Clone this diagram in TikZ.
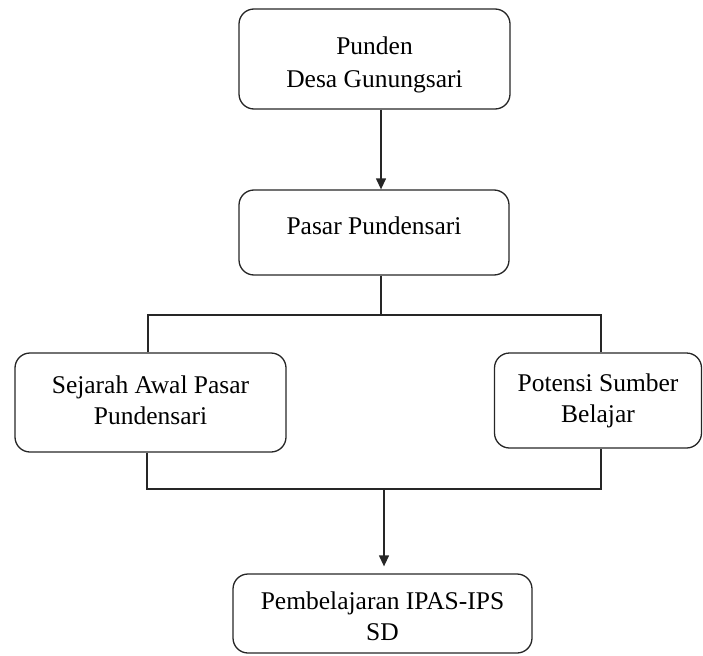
\documentclass[tikz,border=0pt]{standalone}
\usepackage{fontspec}
\setmainfont{Liberation Serif}
\usetikzlibrary{arrows.meta}
\newcommand\boxlines[2]{\raisebox{#1}[\height][\depth]{\begin{tabular}{@{}c@{}}#2\end{tabular}}}
\begin{document}
\begin{tikzpicture}[x=1pt,y=-1pt,
  box/.style={draw=black!85, line width=1.3pt, rounded corners=15pt, align=center,
    inner sep=0pt, font=\fontsize{25.5}{31}\selectfont},
  conn/.style={draw=black!85, line width=1.3pt},
  arr/.style={conn, -{Triangle[width=10pt,length=11pt]}}]
\useasboundingbox (0,0) rectangle (703,655);
\node[box, minimum width=271pt, minimum height=100pt, font=\fontsize{25.5}{33}\selectfont] (b1) at (374.5,59) {\boxlines{-5.5pt}{Punden\\Desa Gunungsari}};
\node[box, minimum width=270pt, minimum height=85pt] (b2) at (374,232.5) {\raisebox{6.5pt}[\height][\depth]{Pasar Pundensari}};
\node[box, minimum width=271pt, minimum height=99pt] (b3) at (150.5,402.5) {\boxlines{0pt}{Sejarah Awal Pasar\\Pundensari}};
\node[box, minimum width=207pt, minimum height=95pt] (b4) at (598,400.5) {\boxlines{0pt}{Potensi Sumber\\Belajar}};
\node[box, minimum width=299pt, minimum height=79pt] (b5) at (382.5,613.5) {\boxlines{-5.5pt}{Pembelajaran IPAS-IPS\\SD}};
\coordinate (j1) at (381,315);
\coordinate (L1) at (148,315);
\coordinate (R1) at (601,315);
\coordinate (L2) at (147,489);
\coordinate (R2) at (601,489);
\coordinate (j2) at (384,489);
\draw[arr] (b1.south -| j1) -- (b2.north -| j1);
\draw[conn] (b2.south -| j1) -- (j1);
\draw[conn] (b3.north -| L1) -- (L1) -- (R1) -- (b4.north -| R1);
\draw[conn] (b3.south -| L2) -- (L2) -- (R2) -- (b4.south -| R2);
\draw[arr] (j2) -- ([yshift=7pt]b5.north -| j2);
\end{tikzpicture}
\end{document}
